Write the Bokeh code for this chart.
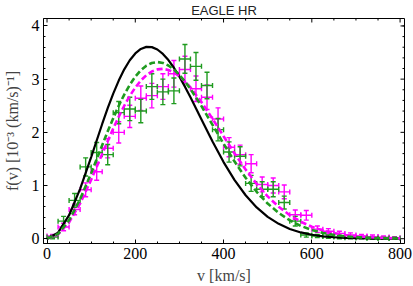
import math
from bokeh.plotting import figure
from bokeh.models import ColumnDataSource, Whisker, TeeHead, Range1d, FixedTicker
from bokeh.embed import file_html
from bokeh.resources import INLINE

# ---- data ----
v_curve = [0, 25, 50, 75, 100, 125, 137.5, 150, 162.5, 175, 187.5, 200, 212.5, 225, 237.5,
           250, 262.5, 275, 287.5, 300, 312.5, 325, 350, 375, 400, 425, 450, 475, 500, 525,
           550, 575, 600, 625, 650, 675, 700, 750, 800]
f_shm = [0.0, 0.115, 0.442, 0.938, 1.535, 2.157, 2.453, 2.728, 2.973, 3.184, 3.355, 3.483,
         3.567, 3.606, 3.602, 3.557, 3.474, 3.358, 3.214, 3.046, 2.859, 2.660, 2.242, 1.827,
         1.441, 1.102, 0.817, 0.588, 0.411, 0.279, 0.184, 0.118, 0.074, 0.045, 0.027, 0.015,
         0.009, 0.003, 0.001]
f_fit_green = [0.0, 0.089, 0.347, 0.743, 1.231, 1.758, 2.018, 2.267, 2.500, 2.710, 2.893,
               3.046, 3.167, 3.253, 3.304, 3.321, 3.305, 3.257, 3.181, 3.080, 2.957, 2.815,
               2.492, 2.141, 1.787, 1.450, 1.145, 0.882, 0.661, 0.484, 0.346, 0.241, 0.164,
               0.109, 0.071, 0.045, 0.028, 0.010, 0.003]
f_fit_magenta = [0.0, 0.080, 0.309, 0.665, 1.108, 1.592, 1.835, 2.071, 2.294, 2.500, 2.684,
                 2.842, 2.973, 3.074, 3.144, 3.183, 3.193, 3.173, 3.125, 3.052, 2.957, 2.843,
                 2.568, 2.255, 1.927, 1.603, 1.300, 1.029, 0.795, 0.600, 0.442, 0.319, 0.225,
                 0.155, 0.105, 0.069, 0.045, 0.018, 0.006]

v_bins = [12.5, 37.5, 62.5, 87.5, 112.5, 137.5, 162.5, 187.5, 212.5, 237.5, 262.5, 287.5,
          312.5, 337.5, 362.5, 387.5, 412.5, 437.5, 462.5, 487.5, 512.5, 537.5, 562.5, 587.5,
          612.5, 637.5, 662.5, 687.5, 712.5, 737.5, 762.5, 787.5]
f_green = [0.03, 0.33, 0.72, 1.35, 1.62, 1.58, 2.37, 2.44, 2.40, 2.86, 2.76, 2.78,
           3.38, 3.24, 2.88, 2.05, 1.63, 1.55, 1.04, 0.93, 0.93, 0.68, 0.33, 0.07,
           0.05, 0.04, 0.03, 0.02, 0.02, 0.01, 0.01, 0.01]
err_green = [0.03, 0.09, 0.13, 0.17, 0.19, 0.19, 0.21, 0.22, 0.22, 0.24, 0.24, 0.24,
             0.27, 0.26, 0.25, 0.21, 0.19, 0.18, 0.15, 0.14, 0.14, 0.12, 0.09, 0.04,
             0.03, 0.03, 0.03, 0.02, 0.02, 0.02, 0.02, 0.02]
f_magenta = [0.05, 0.22, 0.55, 0.92, 1.26, 1.70, 2.00, 2.30, 2.64, 2.69, 2.86, 3.10,
             3.18, 2.82, 2.66, 2.25, 1.72, 1.58, 1.41, 1.02, 1.00, 0.88, 0.45, 0.44,
             0.18, 0.14, 0.10, 0.07, 0.05, 0.04, 0.03, 0.02]
err_magenta = [0.03, 0.07, 0.10, 0.13, 0.16, 0.18, 0.20, 0.21, 0.23, 0.23, 0.24, 0.25,
               0.25, 0.24, 0.23, 0.21, 0.18, 0.18, 0.17, 0.14, 0.14, 0.13, 0.09, 0.09,
               0.06, 0.05, 0.04, 0.04, 0.03, 0.03, 0.02, 0.02]
bin_half_width = 12.5

x_ticks = [0, 200, 400, 600, 800]
x_minor_ticks = [50, 100, 150, 250, 300, 350, 450, 500, 550, 650, 700, 750]
y_ticks = [0, 1, 2, 3, 4]
y_minor_ticks = [0.2, 0.4, 0.6, 0.8, 1.2, 1.4, 1.6, 1.8, 2.2, 2.4, 2.6, 2.8,
                 3.2, 3.4, 3.6, 3.8, 4.0]

GREEN = "#1f9b1f"
MAGENTA = "#ff00ff"
SERIF = "Liberation Serif"

p = figure(width=413, height=286, output_backend="svg", toolbar_location=None,
           x_range=Range1d(-8, 810), y_range=Range1d(-0.09, 4.14),
           min_border_left=38, min_border_right=9, min_border_top=15, min_border_bottom=43)

p.title.text = "EAGLE HR"
p.title.align = "center"
p.title.text_font = "Liberation Sans"
p.title.text_font_size = "13px"
p.title.text_font_style = "normal"
p.title.text_color = "#222222"
p.title.standoff = 1

p.xgrid.visible = False
p.ygrid.visible = False
p.outline_line_color = "black"
p.outline_line_width = 1
p.background_fill_color = "white"
p.border_fill_color = "white"


def style_axis(ax, ticks, minor):
    ax.ticker = FixedTicker(ticks=ticks, minor_ticks=minor)
    ax.axis_line_color = "black"
    ax.axis_line_width = 1
    ax.major_tick_in = 4
    ax.major_tick_out = 0
    ax.minor_tick_in = 2
    ax.minor_tick_out = 0
    ax.major_tick_line_color = "black"
    ax.minor_tick_line_color = "black"
    ax.major_label_text_font = SERIF
    ax.major_label_text_color = "black"
    ax.major_label_text_font_size = "16px"
    ax.major_label_standoff = 4
    ax.axis_label_text_font = SERIF
    ax.axis_label_text_font_size = "16px"
    ax.axis_label_text_font_style = "normal"


xa = p.xaxis[0]
style_axis(xa, x_ticks, x_minor_ticks)
xa.axis_label = "v [km/s]"
xa.axis_label_standoff = 5

ya = p.yaxis[0]
style_axis(ya, y_ticks, y_minor_ticks)
ya.axis_label = "f(v) [10\u207b\u00b3 (km/s)\u207b\u00b9]"
ya.axis_label_standoff = 8

# inward ticks on the top and right sides of the frame (half of each dash is clipped)
p.scatter(x_ticks, [p.y_range.end] * len(x_ticks), marker="dash", angle=math.pi / 2,
          size=8, line_color="black", line_width=1)
p.scatter(x_minor_ticks, [p.y_range.end] * len(x_minor_ticks), marker="dash",
          angle=math.pi / 2, size=4, line_color="black", line_width=1)
p.scatter([p.x_range.end] * len(y_ticks), y_ticks, marker="dash", size=8,
          line_color="black", line_width=1)
p.scatter([p.x_range.end] * len(y_minor_ticks), y_minor_ticks, marker="dash", size=4,
          line_color="black", line_width=1)


def add_points(f, err, color):
    src = ColumnDataSource(dict(
        v=v_bins, f=f,
        lo=[a - b for a, b in zip(f, err)], hi=[a + b for a, b in zip(f, err)],
        vlo=[a - bin_half_width for a in v_bins], vhi=[a + bin_half_width for a in v_bins]))
    for base, lo, hi, dim in (("v", "lo", "hi", "height"), ("f", "vlo", "vhi", "width")):
        w = Whisker(source=src, base=base, lower=lo, upper=hi, dimension=dim,
                    line_color=color, line_width=1.4,
                    lower_head=TeeHead(size=5, line_color=color, line_width=1.4),
                    upper_head=TeeHead(size=5, line_color=color, line_width=1.4))
        p.add_layout(w)


add_points(f_magenta, err_magenta, MAGENTA)
add_points(f_green, err_green, GREEN)

p.line(v_curve, f_shm, line_color="black", line_width=2.2)
p.line(v_curve, f_fit_magenta, line_color=MAGENTA, line_width=2.6, line_dash="6 3")
p.line(v_curve, f_fit_green, line_color=GREEN, line_width=2.6, line_dash="6 3")

open("out.html", "w").write(file_html(p, INLINE))
